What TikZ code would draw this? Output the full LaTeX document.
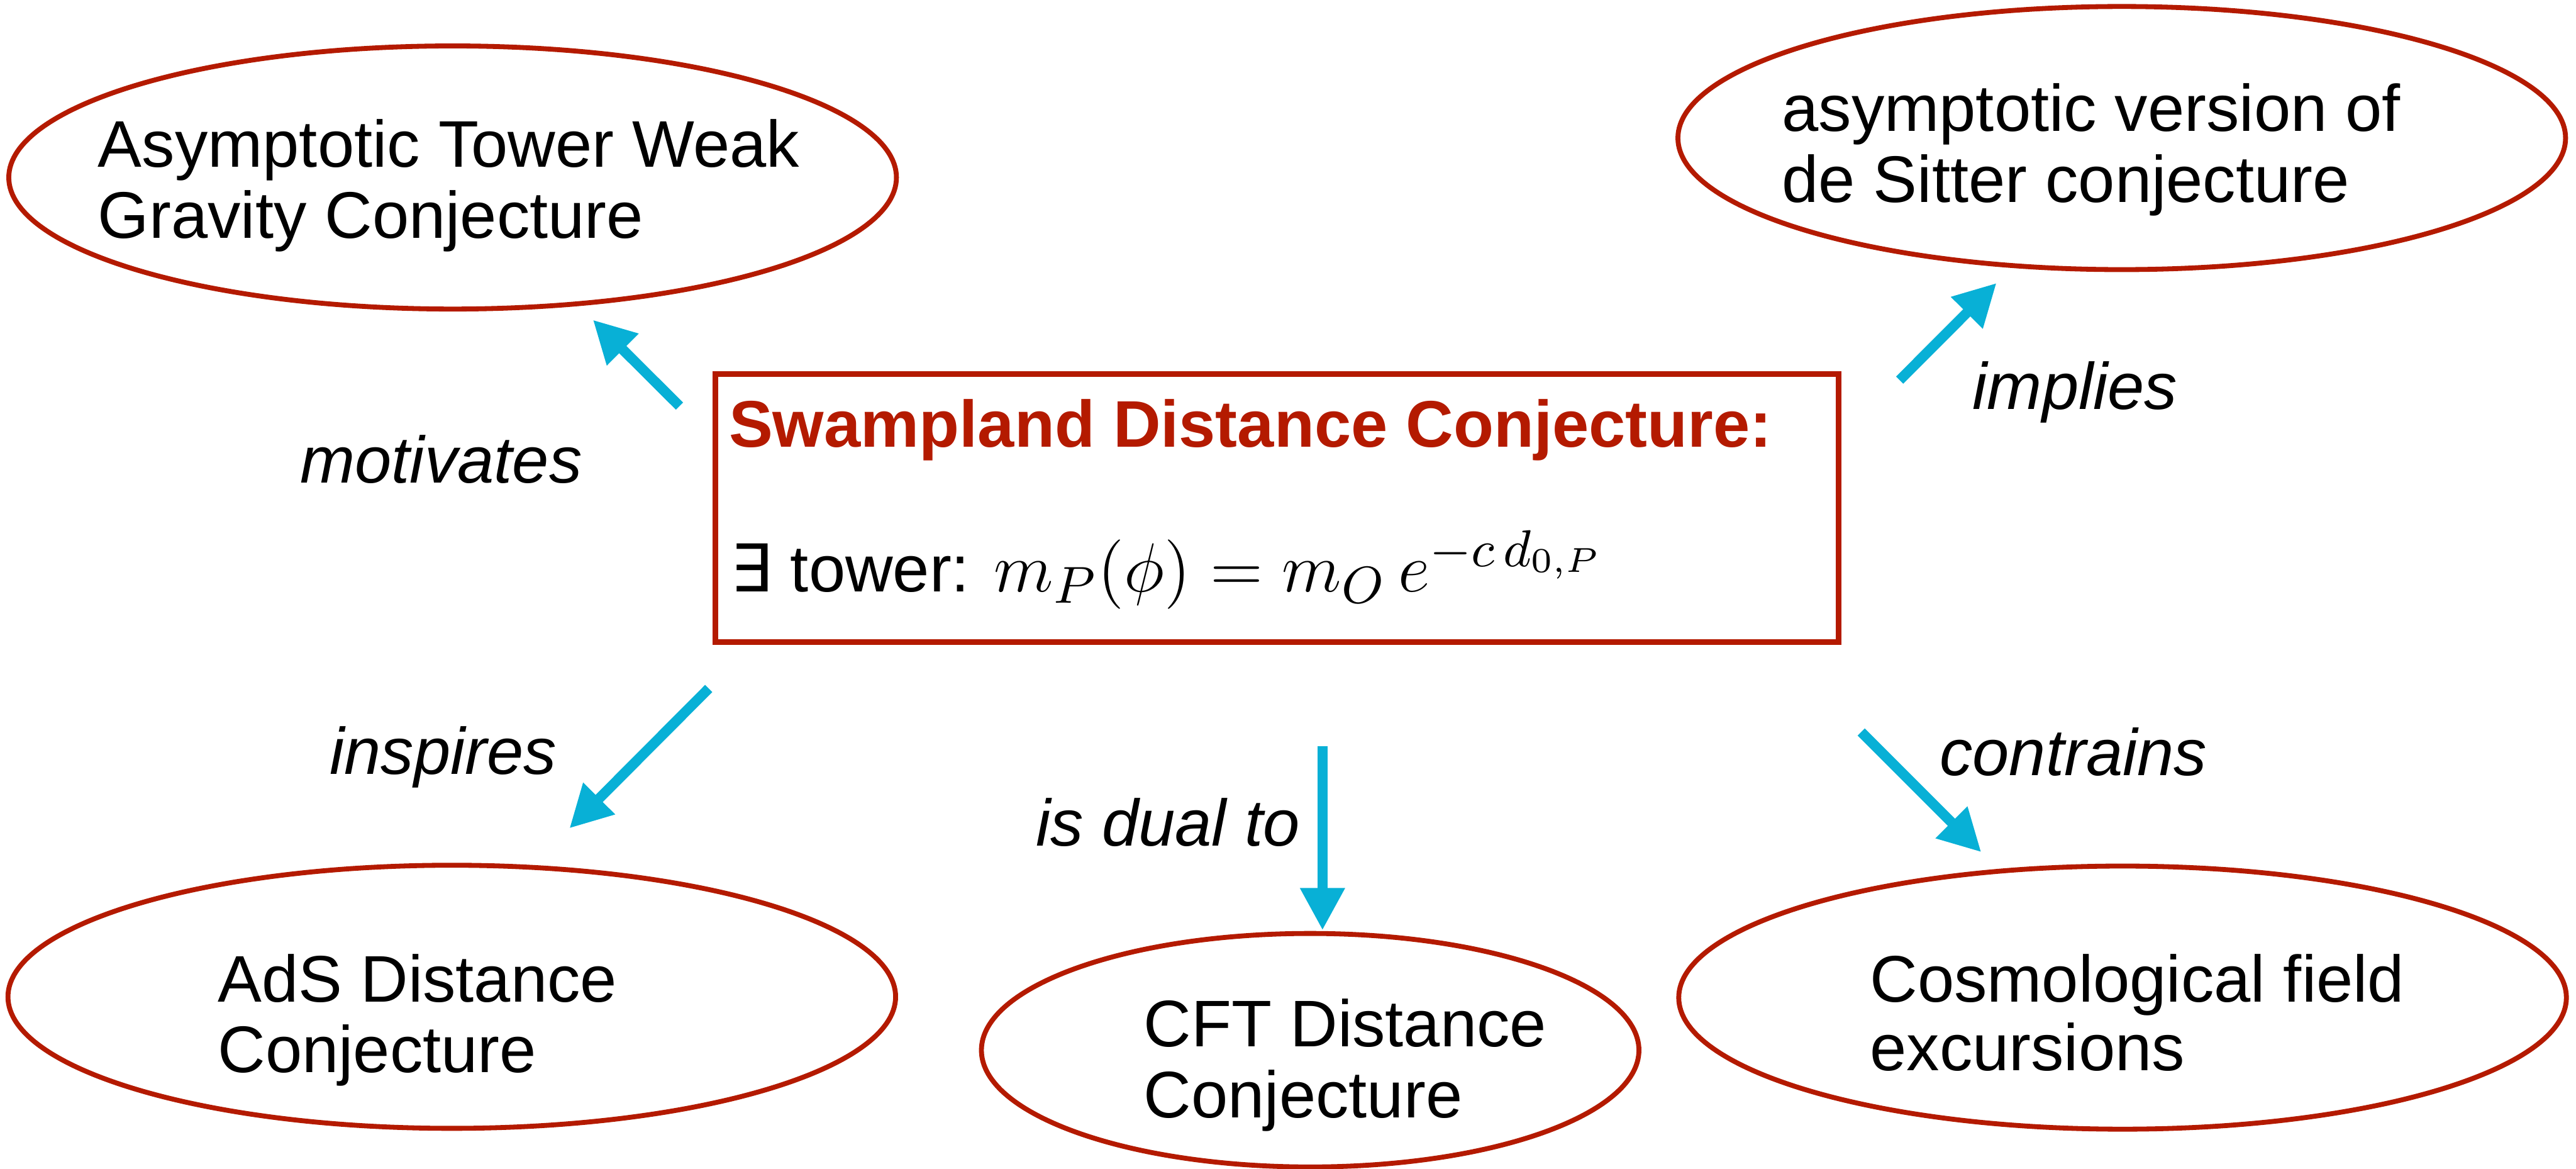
\documentclass[tikz,border=0pt]{standalone}
\usepackage{fontspec}
\setmainfont{Liberation Sans}
\newfontfamily\djv{DejaVu Sans}
\usetikzlibrary{arrows.meta,shapes.geometric}
\definecolor{sred}{HTML}{B41A00}
\definecolor{scyan}{HTML}{08B0D6}
\tikzset{
  bubble/.style={draw=sred, line width=0.85pt, ellipse, inner sep=0pt,
    minimum width=5.4cm, minimum height=1.6cm},
  txt/.style={anchor=base west, inner sep=0pt, font=\fontsize{11.4pt}{13pt}\selectfont},
  lbl/.style={anchor=base west, inner sep=0pt, font=\fontsize{11.4pt}{13pt}\selectfont\itshape},
  rel/.style={draw=scyan, line width=1.76pt, -{Triangle[length=7.3pt,width=7.3pt]}},
}
\begin{document}
\begin{tikzpicture}[x=0.01cm,y=-0.01cm]
\useasboundingbox[fill=white] (0,0) rectangle (1568,711.2);

% ellipses
\node[bubble] (atwgc) at (275.5,108) {};
\node[bubble] (dsc) at (1291.5,84) {};
\node[bubble] (ads) at (275,606.5) {};
\node[bubble, minimum width=4.0cm, minimum height=1.42cm] (cft) at (797.5,639) {};
\node[bubble] (cos) at (1292,607) {};

% central box
\node[draw=sred, line width=1pt, rectangle, inner sep=0pt,
  minimum width=6.835cm, minimum height=1.63cm] (sdc) at (777.25,309) {};

% texts in ellipses
\node[txt] (atwgc1) at (59,101.6) {Asymptotic Tower Weak};
\node[txt] (atwgc2) at (59,144.8) {Gravity Conjecture};
\node[txt] (dsc1) at (1084,80) {asymptotic version of};
\node[txt] (dsc2) at (1084,123) {de Sitter conjecture};
\node[txt] (ads1) at (132,609.5) {AdS Distance};
\node[txt] (ads2) at (132,652.5) {Conjecture};
\node[txt] (cft1) at (695.6,637) {CFT Distance};
\node[txt] (cft2) at (695.6,680) {Conjecture};
\node[txt] (cos1) at (1137.6,609.7) {Cosmological field};
\node[txt] (cos2) at (1137.6,651.4) {excursions};

% box texts
\node[txt, text=sred, font=\fontsize{11.4pt}{13pt}\selectfont\bfseries] (title) at (443,272) {Swampland Distance Conjecture:};
\node[txt] (formula) at (444,360) {{\djv ∃} tower: {\fontsize{12.5pt}{14pt}\selectfont$m_P(\phi) = m_O\, e^{-c\, d_{0,P}}$}};

% labels
\node[lbl] (lmot) at (182,294) {motivates};
\node[lbl] (limp) at (1200,249) {implies};
\node[lbl] (lins) at (200,471) {inspires};
\node[lbl] (ldual) at (630,514.6) {is dual to};
\node[lbl] (lcon) at (1180,472) {contrains};

% arrow coordinates
\coordinate (a1s) at (413.6,247.1);
\coordinate (a1e) at (360.9,194.6);
\coordinate (a2s) at (1156.3,231.3);
\coordinate (a2e) at (1215.3,172.2);
\coordinate (a3s) at (431.4,418.9);
\coordinate (a3e) at (346.6,504);
\coordinate (a4s) at (805,454);
\coordinate (a4e) at (805,566);
\coordinate (a5s) at (1132.9,445.4);
\coordinate (a5e) at (1206,518.5);

\draw[rel] (a1s) -- (a1e);
\draw[rel] (a2s) -- (a2e);
\draw[rel] (a3s) -- (a3e);
\draw[rel] (a4s) -- (a4e);
\draw[rel] (a5s) -- (a5e);
\end{tikzpicture}
\end{document}
